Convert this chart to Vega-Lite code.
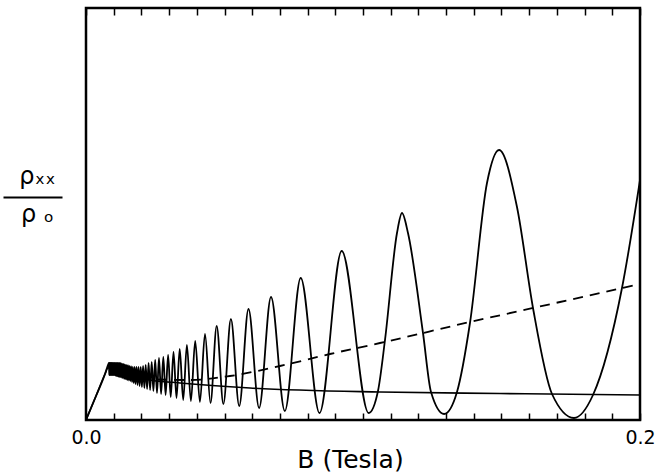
{
  "$schema": "https://vega.github.io/schema/vega-lite/v6.json",
  "width": 554,
  "height": 412,
  "autosize": {"type": "none"},
  "padding": {"left": 86, "top": 8, "right": 16, "bottom": 53},
  "background": "white",
  "config": {"view": {"stroke": "black", "strokeWidth": 2.5}, "font": "DejaVu Sans"},
  "datasets": {
    "osc": [
      {"B":0,"r":0},{"B":0.00361,"r":0.48},{"B":0.00686,"r":0.92},{"B":0.00758,"r":1.04},{"B":0.00812,"r":1.12},
      {"B":0.00830,"r":1.14},{"B":0.00838,"r":0.90},{"B":0.00848,"r":1.14},{"B":0.00856,"r":0.90},
      {"B":0.00863,"r":1.14},{"B":0.00870,"r":0.90},{"B":0.00881,"r":1.14},{"B":0.00888,"r":0.90},
      {"B":0.00899,"r":1.14},{"B":0.00906,"r":0.90},{"B":0.00917,"r":1.14},{"B":0.00924,"r":0.90},
      {"B":0.00935,"r":1.14},{"B":0.00946,"r":0.90},{"B":0.00953,"r":1.14},{"B":0.00964,"r":0.90},
      {"B":0.00975,"r":1.14},{"B":0.00986,"r":0.90},{"B":0.00996,"r":1.14},{"B":0.01007,"r":0.90},
      {"B":0.01018,"r":1.14},{"B":0.01029,"r":0.90},{"B":0.01043,"r":1.14},{"B":0.01054,"r":0.89},
      {"B":0.01065,"r":1.14},{"B":0.01079,"r":0.89},{"B":0.01090,"r":1.14},{"B":0.01105,"r":0.88},
      {"B":0.01119,"r":1.14},{"B":0.01134,"r":0.88},{"B":0.01144,"r":1.14},{"B":0.01162,"r":0.87},
      {"B":0.01177,"r":1.14},{"B":0.01191,"r":0.87},{"B":0.01206,"r":1.14},{"B":0.01224,"r":0.86},
      {"B":0.01238,"r":1.14},{"B":0.01256,"r":0.86},{"B":0.01274,"r":1.13},{"B":0.01292,"r":0.85},
      {"B":0.01310,"r":1.12},{"B":0.01328,"r":0.84},{"B":0.01347,"r":1.12},{"B":0.01368,"r":0.83},
      {"B":0.01386,"r":1.11},{"B":0.01408,"r":0.82},{"B":0.01430,"r":1.10},{"B":0.01451,"r":0.81},
      {"B":0.01476,"r":1.10},{"B":0.01498,"r":0.80},{"B":0.01523,"r":1.09},{"B":0.01549,"r":0.79},
      {"B":0.01578,"r":1.08},{"B":0.01603,"r":0.78},{"B":0.01632,"r":1.07},{"B":0.01661,"r":0.76},
      {"B":0.01689,"r":1.06},{"B":0.01722,"r":0.74},{"B":0.01754,"r":1.06},{"B":0.01787,"r":0.72},
      {"B":0.01823,"r":1.06},{"B":0.01859,"r":0.70},{"B":0.01895,"r":1.06},{"B":0.01935,"r":0.68},
      {"B":0.01975,"r":1.06},{"B":0.02018,"r":0.66},{"B":0.02061,"r":1.08},{"B":0.02108,"r":0.64},
      {"B":0.02155,"r":1.10},{"B":0.02206,"r":0.62},{"B":0.02260,"r":1.14},{"B":0.02314,"r":0.60},
      {"B":0.02372,"r":1.16},{"B":0.02433,"r":0.58},{"B":0.02498,"r":1.20},{"B":0.02563,"r":0.54},
      {"B":0.02635,"r":1.24},{"B":0.02711,"r":0.52},{"B":0.02791,"r":1.26},{"B":0.02874,"r":0.50},
      {"B":0.02964,"r":1.30},{"B":0.03058,"r":0.46},{"B":0.03159,"r":1.36},{"B":0.03267,"r":0.44},
      {"B":0.03383,"r":1.42},{"B":0.03509,"r":0.40},{"B":0.03642,"r":1.50},{"B":0.03787,"r":0.38},
      {"B":0.03942,"r":1.58},{"B":0.04112,"r":0.36},{"B":0.04296,"r":1.72},{"B":0.04494,"r":0.34},
      {"B":0.04718,"r":1.88},{"B":0.04960,"r":0.32},{"B":0.05231,"r":2.02},{"B":0.05531,"r":0.28},
      {"B":0.05866,"r":2.22},{"B":0.06249,"r":0.24},{"B":0.06679,"r":2.46},{"B":0.07177,"r":0.18},
      {"B":0.07751,"r":2.84},{"B":0.08429,"r":0.14},
      {"B":0.09231,"r":3.38},{"B":0.10205,"r":0.14},
      {"B":0.10541,"r":0.58},{"B":0.10794,"r":1.60},{"B":0.11227,"r":3.74},{"B":0.11408,"r":4.14},
      {"B":0.11624,"r":3.74},{"B":0.12166,"r":1.74},{"B":0.12455,"r":0.56},{"B":0.12927,"r":0.12},
      {"B":0.13393,"r":0.56},{"B":0.13862,"r":1.94},{"B":0.14476,"r":4.74},{"B":0.14913,"r":5.40},
      {"B":0.15559,"r":4.26},{"B":0.16137,"r":2.24},{"B":0.16823,"r":0.52},
      {"B":0.17617,"r":0.04},{"B":0.18303,"r":0.50},{"B":0.19350,"r":2.64},
      {"B":0.2,"r":4.80}
    ],
    "bg": [
      {"B":0,"r":0},{"B":0.00361,"r":0.48},{"B":0.00686,"r":0.92},{"B":0.00794,"r":1.04},
      {"B":0.01227,"r":1.00},{"B":0.01769,"r":0.88},{"B":0.02310,"r":0.80},{"B":0.03393,"r":0.74},
      {"B":0.05920,"r":0.64},{"B":0.10613,"r":0.56},{"B":0.14945,"r":0.53},{"B":0.2,"r":0.50}
    ],
    "dash": [
      {"B":0.01949,"r":0.82},{"B":0.03754,"r":0.80},{"B":0.05198,"r":0.88},{"B":0.07003,"r":1.08},
      {"B":0.08808,"r":1.32},{"B":0.10613,"r":1.54},{"B":0.13862,"r":1.96},{"B":0.17111,"r":2.36},
      {"B":0.2,"r":2.72}
    ]
  },
  "layer": [
    {
      "data": {"name": "osc"},
      "mark": {"type": "line", "interpolate": "monotone", "color": "black", "strokeWidth": 1.8},
      "encoding": {
        "x": {
          "field": "B", "type": "quantitative",
          "scale": {"domain": [0, 0.2], "nice": false, "zero": false},
          "axis": {
            "orient": "bottom",
            "values": [0,0.01,0.02,0.03,0.04,0.05,0.06,0.07,0.08,0.09,0.1,0.11,0.12,0.13,0.14,0.15,0.16,0.17,0.18,0.19,0.2],
            "format": ".1f",
            "labelExpr": "datum.value == 0 || datum.value == 0.2 ? datum.label : ''",
            "labelOverlap": false, "labelFlush": false,
            "tickSize": -7, "tickWidth": 1.5, "tickColor": "black",
            "domain": false, "grid": false,
            "labelFontSize": 19, "labelColor": "black", "labelPadding": 15,
            "title": "B (Tesla)", "titleFontSize": 25, "titleFontWeight": "normal", "titleColor": "black",
            "titlePadding": 0, "titleX": 264
          }
        },
        "y": {
          "field": "r", "type": "quantitative",
          "scale": {"domain": [0, 8.24], "nice": false, "zero": false},
          "axis": {
            "values": [4.46],
            "labels": false, "ticks": true, "tickSize": 59, "tickWidth": 2, "tickColor": "black",
            "domain": false, "grid": false, "offset": 24,
            "title": ["ρₓₓ", "ρ ₒ"],
            "titleAngle": 0, "titleFontSize": 24, "titleFontWeight": "normal", "titleColor": "black",
            "titleAlign": "center", "titleBaseline": "alphabetic",
            "titleX": -25, "titleY": 175, "titleLineHeight": 38
          }
        }
      }
    },
    {
      "data": {"name": "bg"},
      "mark": {"type": "line", "interpolate": "monotone", "color": "black", "strokeWidth": 1.6},
      "encoding": {
        "x": {
          "field": "B", "type": "quantitative",
          "axis": {
            "orient": "top",
            "values": [0,0.01,0.02,0.03,0.04,0.05,0.06,0.07,0.08,0.09,0.1,0.11,0.12,0.13,0.14,0.15,0.16,0.17,0.18,0.19,0.2],
            "labels": false, "tickSize": -7, "tickWidth": 1.5, "tickColor": "black",
            "domain": false, "grid": false, "title": null
          }
        },
        "y": {"field": "r", "type": "quantitative"}
      }
    },
    {
      "data": {"name": "dash"},
      "mark": {"type": "line", "interpolate": "monotone", "color": "black", "strokeWidth": 1.8, "strokeDash": [10, 7]},
      "encoding": {
        "x": {"field": "B", "type": "quantitative", "axis": null},
        "y": {"field": "r", "type": "quantitative"}
      }
    }
  ]
}
